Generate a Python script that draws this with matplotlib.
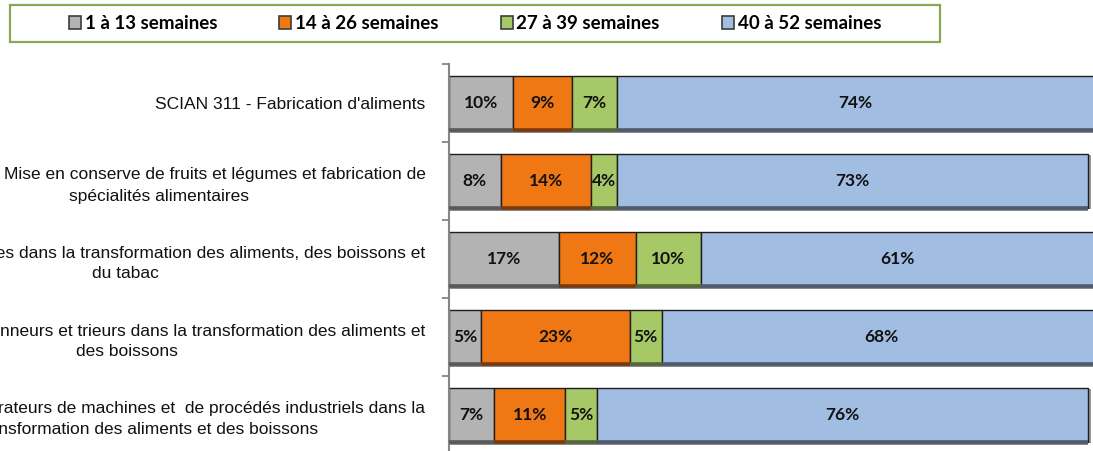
import numpy as np
import matplotlib
matplotlib.use("Agg")
import matplotlib.pyplot as plt
from matplotlib.patches import Patch, Rectangle

# data
categories = [
    "SCIAN 311 - Fabrication d'aliments",
    "SCIAN 3114 - Mise en conserve de fruits et légumes et fabrication de\nspécialités alimentaires",
    "CNP 9617 - Manœuvres dans la transformation des aliments, des boissons et\ndu tabac",
    "CNP 9465 - Échantillonneurs et trieurs dans la transformation des aliments et\ndes boissons",
    "CNP 9461 - Opérateurs de machines et  de procédés industriels dans la\ntransformation des aliments et des boissons",
]
series_names = ["1 à 13 semaines", "14 à 26 semaines", "27 à 39 semaines", "40 à 52 semaines"]
sem_1_13 = [10, 8, 17, 5, 7]
sem_14_26 = [9, 14, 12, 23, 11]
sem_27_39 = [7, 4, 10, 5, 5]
sem_40_52 = [74, 73, 61, 68, 76]

colors = ["#b3b3b3", "#f07814", "#a7c866", "#a1bee2"]
dark = ["#595959", "#7a3a0c", "#55663a", "#4e5b6c"]

series = [sem_1_13, sem_14_26, sem_27_39, sem_40_52]

fig = plt.figure(figsize=(10.93, 4.51), dpi=100)
ax = fig.add_axes([449 / 1093, -3 / 451, 644 / 1093, 390 / 451])

y = np.arange(len(categories))
h = 0.68
xmax = 99.85
px_x = xmax / 644.0
px_y = 1 / 78.0

totals = np.sum(series, axis=0)
# soft shadow behind each bar
ax.barh(y + 1.5 * px_y, totals, height=h + 3 * px_y, left=0,
        color="#8a8a8a", zorder=1)
ax.barh(y + 1.0 * px_y, totals + 3 * px_x, height=h + 1 * px_y, left=0,
        color="#9a9a9a", zorder=1)

left = np.zeros(len(categories))
for vals, c, dc, name in zip(series, colors, dark, series_names):
    vals = np.array(vals, dtype=float)
    ax.barh(y, vals, height=h, left=left, color=c, edgecolor="#1e1e1e",
            linewidth=1.0, zorder=2, label=name)
    # darker bottom edge
    for yi, l, v in zip(y, left, vals):
        ax.plot([l, l + v], [yi + h / 2, yi + h / 2], color=dc, lw=2.6,
                solid_capstyle="butt", zorder=3)
        ax.text(l + v / 2, yi, f"{int(v)}%", ha="center", va="center",
                fontsize=12.5, fontweight="bold", family="Lato", zorder=4,
                color="#111111")
    left += vals

ax.set_xlim(0, xmax)
ax.set_ylim(len(categories) - 0.5, -0.5)

for s in ["top", "right", "bottom"]:
    ax.spines[s].set_visible(False)
ax.spines["left"].set_color("#868686")
ax.spines["left"].set_linewidth(1.5)
ax.set_xticks([])

ax.set_yticks(y)
ax.set_yticklabels(categories, fontsize=12.5,
                   family=["Liberation Sans Narrow", "Liberation Sans", "DejaVu Sans"])
ax.tick_params(axis="y", which="major", length=0, pad=17)
ax.set_yticks(np.arange(-0.5, len(categories), 1.0), minor=True)
ax.tick_params(axis="y", which="minor", length=5, width=1.3, color="#868686")
for lab in ax.get_yticklabels():
    lab.set_multialignment("center")
    lab.set_linespacing(1.5)
    lab.set_color("#111111")

# legend box
fig.patches.append(Rectangle((10 / 1093, 1 - 42 / 451), 930 / 1093, 37 / 451,
                             transform=fig.transFigure, facecolor="white",
                             edgecolor="#8aa852", linewidth=1.6, zorder=0))
handles = [Patch(facecolor=c, edgecolor="#3c3c3c", linewidth=1.2) for c in colors]
leg = fig.legend(handles, series_names, loc="center", ncol=4,
                 bbox_to_anchor=(475 / 1093, 1 - 23.5 / 451),
                 frameon=False, borderaxespad=0, columnspacing=3.3,
                 handlelength=0.65, handleheight=0.7, handletextpad=0.2,
                 prop={"family": "Lato", "weight": "bold", "size": 13.5})

fig.savefig("out.png", dpi=100)
